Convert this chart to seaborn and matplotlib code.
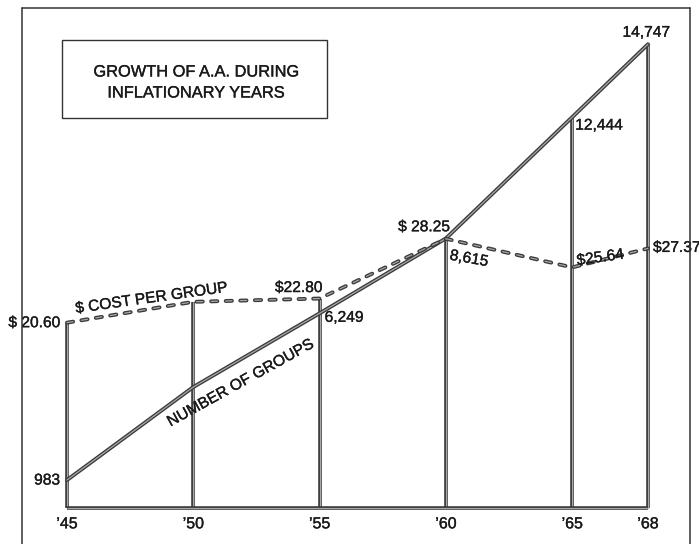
import numpy as np
import pandas as pd
import matplotlib
matplotlib.use("Agg")
import matplotlib.pyplot as plt
import matplotlib.patheffects as pe
import seaborn as sns
from matplotlib.lines import Line2D
from matplotlib.patches import Rectangle

# Data
years = [1945, 1950, 1955, 1960, 1965, 1968]
year_labels = ["’45", "’50", "’55", "’60", "’65", "’68"]
groups = [983, 3920, 6249, 8615, 12444, 14747]
cost = [20.60, 22.50, 22.80, 28.25, 25.64, 27.37]

sns.set_theme(style="white")
plt.rcParams["font.family"] = ["Liberation Sans", "DejaVu Sans"]
plt.rcParams["lines.scale_dashes"] = False

df = pd.DataFrame({"year": years, "groups": groups, "cost": cost})

ink = "#3a3a3a"
mid = "#a8a8a8"
txt = "#1a1a1a"
heavy = [pe.withStroke(linewidth=0.25, foreground=txt)]

fig = plt.figure(figsize=(6.99, 5.44), dpi=100)
ax = fig.add_axes([67 / 699, 36 / 544, 581 / 699, 499 / 544])
ax.set_xlim(1945, 1968)
ax.set_ylim(100, 15860)
ax2 = ax.twinx()
ax2.set_ylim(3.7, 49.2)

for a in (ax, ax2):
    a.set_facecolor("none")
    for s in a.spines.values():
        s.set_visible(False)
    a.set_yticks([])

# vertical year lines, up to the higher of the two curves
tops = []
for yr, g, c in zip(years, groups, cost):
    p = ax2.transData.transform((yr, c))
    g_equiv = ax.transData.inverted().transform(p)[1]
    tops.append(max(g, g_equiv))
y0 = ax.get_ylim()[0]
ax.vlines(years, y0, tops, colors=ink, lw=2.6, clip_on=False, zorder=2)
ax.vlines(years, y0, tops, colors=mid, lw=0.8, clip_on=False, zorder=2)
ax.hlines(y0, years[0], years[-1], colors=ink, lw=2.6, clip_on=False, zorder=2)
ax.hlines(y0, years[0], years[-1], colors=mid, lw=0.8, clip_on=False, zorder=2)

# number of groups (solid)
sns.lineplot(data=df, x="year", y="groups", ax=ax, color=ink, lw=2.8,
             clip_on=False, zorder=3)
sns.lineplot(data=df, x="year", y="groups", ax=ax, color=mid, lw=0.9,
             clip_on=False, zorder=3)

# cost per group (dashed)
dash = (0, (4.5, 6.0))
sns.lineplot(data=df, x="year", y="cost", ax=ax2, color=ink, lw=2.8,
             linestyle=dash, dash_capstyle="round", clip_on=False, zorder=3)
sns.lineplot(data=df, x="year", y="cost", ax=ax2, color=mid, lw=0.9,
             linestyle=dash, dash_capstyle="round", clip_on=False, zorder=3)
ax.set_xlabel("")
ax.set_ylabel("")
ax2.set_ylabel("")

ax.set_xticks(years)
ax.set_xticklabels(year_labels, fontsize=11.5, color=txt)
for t in ax.get_xticklabels():
    t.set_path_effects(heavy)
ax.tick_params(axis="x", length=0, pad=6)

fs = 11.2
lab = dict(textcoords="offset pixels", fontsize=fs, color=txt, path_effects=heavy)
# groups labels
ax.annotate(f"{groups[0]:,}", (years[0], groups[0]), xytext=(-7, 0),
            ha="right", va="center", **lab)
ax.annotate(f"{groups[2]:,}", (years[2], groups[2]), xytext=(5, -4),
            ha="left", va="center", **lab)
ax.annotate(f"{groups[3]:,}", (years[3], groups[3]), xytext=(23, -20),
            ha="center", va="center", rotation=-10, **lab)
ax.annotate(f"{groups[4]:,}", (years[4], groups[4]), xytext=(3, -8),
            ha="left", va="center", **lab)
ax.annotate(f"{groups[5]:,}", (years[5], groups[5]), xytext=(-2, 12),
            ha="center", va="center", **lab)

# cost labels
ax2.annotate(f"$ {cost[0]:.2f}", (years[0], cost[0]), xytext=(-7, 0),
             ha="right", va="center", **lab)
ax2.annotate(f"${cost[2]:.2f}", (years[2], cost[2]), xytext=(-21, 11),
             ha="center", va="center", **lab)
ax2.annotate(f"$ {cost[3]:.2f}", (years[3], cost[3]), xytext=(-22, 12),
             ha="center", va="center", **lab)
ax2.annotate(f"${cost[4]:.2f}", (years[4], cost[4]), xytext=(28, 10),
             ha="center", va="center", rotation=8, **lab)
ax2.annotate(f"${cost[5]:.2f}", (years[5], cost[5]), xytext=(5, 1),
             ha="left", va="center", **lab)

# series names along the lines
fig.text(151 / 699, 1 - 298 / 544, "$ COST PER GROUP", fontsize=fs, color=txt,
         rotation=8, ha="center", va="center", path_effects=heavy)
fig.text(240 / 699, 1 - 383 / 544, "NUMBER OF GROUPS", fontsize=fs, color=txt,
         rotation=29, ha="center", va="center", path_effects=heavy)

# title box
fig.add_artist(Rectangle((62 / 699, 1 - 118 / 544), 265 / 699, 78 / 544,
                         transform=fig.transFigure, fill=False, ec="#333333", lw=1.0))
fig.text(196 / 699, 1 - 72 / 544, "GROWTH OF A.A. DURING", fontsize=11.8, color=txt,
         ha="center", va="center", path_effects=heavy)
fig.text(196 / 699, 1 - 93 / 544, "INFLATIONARY YEARS", fontsize=11.8, color=txt,
         ha="center", va="center", path_effects=heavy)

# outer frame
fx0, fx1, fy1 = 22 / 699, 690 / 699, 1 - 8 / 544
for xs, ys in [([fx0, fx0], [0, fy1]), ([fx0, fx1], [fy1, fy1]), ([fx1, fx1], [fy1, 0])]:
    fig.add_artist(Line2D(xs, ys, transform=fig.transFigure, color="#333333", lw=1.1))

fig.savefig("out.png", dpi=100, facecolor="white")
